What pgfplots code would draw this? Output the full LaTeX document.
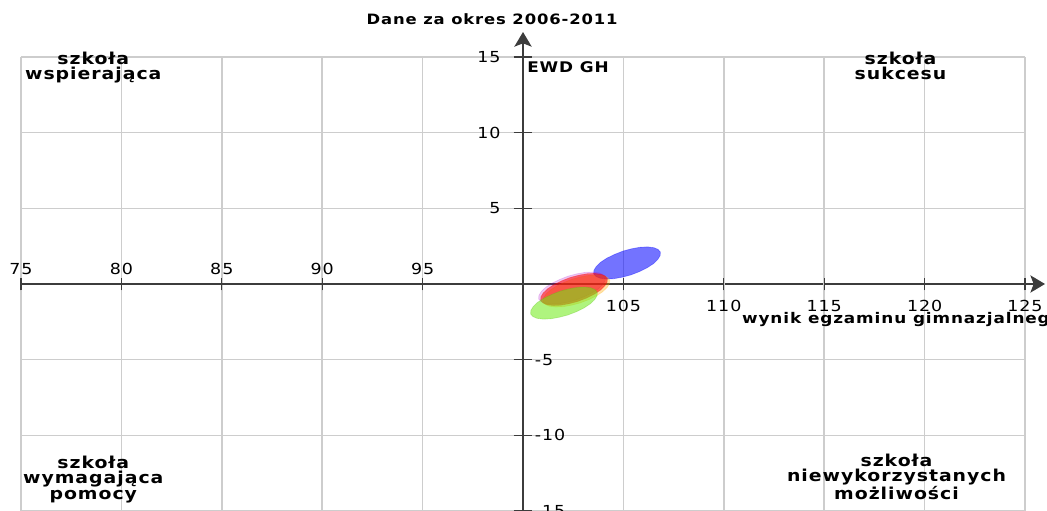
\documentclass[border=0pt]{standalone}
\usepackage{fontspec}
\setmainfont{DejaVu Sans}[FakeStretch=1.15, LetterSpace=6]
\usepackage{pgfplots}
\pgfplotsset{compat=1.18}
\usetikzlibrary{arrows.meta}
\definecolor{axgray}{RGB}{60,60,60}
\definecolor{gridgray}{RGB}{205,205,205}
\definecolor{eblue}{RGB}{0,0,255}
\definecolor{ered}{RGB}{255,0,0}
\definecolor{epurple}{RGB}{170,0,200}
\definecolor{eorange}{RGB}{255,170,0}
\definecolor{egreen}{RGB}{110,235,20}
\begin{document}
\begin{tikzpicture}
\begin{axis}[
  scale only axis, width=753pt, height=340.5pt,
  xmin=75, xmax=125, ymin=-15, ymax=15,
  x coord trafo/.code={\pgfmathparse{#1-100}},
  x coord inv trafo/.code={\pgfmathparse{#1+100}},
  axis lines=middle,
  clip=false,
  axis line style={draw=axgray, line width=1.1pt},
  x axis line style={-{Stealth[length=11pt,width=13pt,inset=2.5pt]}, shorten >=-15pt},
  y axis line style={-{Stealth[length=11pt,width=13pt,inset=2.5pt]}, shorten >=-18.75pt},
  grid=major,
  grid style={draw=gridgray, line width=1.1pt},
  tick align=center,
  major tick length=9.5pt,
  ytick style={/pgfplots/major tick length=14pt},
  tick style={draw=axgray, line width=0.9pt},
  tick label style={font=\fontsize{11.4pt}{13pt}\selectfont},
  xtick={75,80,85,90,95},
  xticklabels={75,80,85,90,95},
  xticklabel style={anchor=south, inner xsep=0pt, inner ysep=12pt, text depth=0pt},
  extra x ticks={105,110,115,120,125},
  extra x tick labels={105,110,115,120,125},
  extra x tick style={grid=major, xticklabel style={anchor=north, inner ysep=7.5pt, text height=8.2pt}},
  ytick={5,10,15},
  yticklabels={5,10,15},
  yticklabel style={anchor=east, inner xsep=12pt, inner ysep=0pt},
  extra y ticks={-15,-10,-5},
  extra y tick labels={-15,-10,-5},
  extra y tick style={grid=major, yticklabel style={anchor=west, inner xsep=13.5pt}},
]
% blue
\addplot[fill=eblue, fill opacity=0.55, draw=eblue, draw opacity=0.35, line width=0.5pt] coordinates {
(106.84,2.11) (106.73,2.28) (106.52,2.40) (106.22,2.45) (105.84,2.43) (105.42,2.33)
(104.99,2.18) (104.57,1.96) (104.18,1.71) (103.87,1.44) (103.65,1.16) (103.53,0.90)
(103.52,0.68) (103.63,0.50) (103.84,0.38) (104.14,0.33) (104.52,0.35) (104.94,0.45)
(105.37,0.60) (105.80,0.82) (106.18,1.07) (106.49,1.34) (106.71,1.62) (106.83,1.88)
} -- cycle;
% purple
\addplot[fill=epurple, fill opacity=0.22, draw=epurple, draw opacity=0.2, line width=0.5pt] coordinates {
(104.10,0.45) (103.99,0.62) (103.78,0.74) (103.48,0.79) (103.10,0.77) (102.68,0.67)
(102.25,0.52) (101.83,0.30) (101.44,0.05) (101.13,-0.22) (100.91,-0.50) (100.79,-0.76)
(100.78,-0.99) (100.89,-1.16) (101.10,-1.28) (101.40,-1.33) (101.78,-1.31) (102.20,-1.21)
(102.63,-1.06) (103.06,-0.84) (103.44,-0.59) (103.75,-0.32) (103.97,-0.04) (104.09,0.22)
} -- cycle;
% orange
\addplot[fill=eorange, fill opacity=0.35, draw=eorange, draw opacity=0.25, line width=0.5pt] coordinates {
(104.32,0.26) (104.21,0.43) (104.00,0.55) (103.70,0.60) (103.32,0.58) (102.90,0.48)
(102.47,0.33) (102.05,0.11) (101.66,-0.14) (101.35,-0.41) (101.13,-0.69) (101.01,-0.95)
(101.00,-1.18) (101.11,-1.35) (101.32,-1.47) (101.62,-1.52) (102.00,-1.50) (102.42,-1.40)
(102.85,-1.25) (103.28,-1.03) (103.66,-0.78) (103.97,-0.51) (104.19,-0.23) (104.31,0.03)
} -- cycle;
% red
\addplot[fill=ered, fill opacity=0.55, draw=ered, draw opacity=0.3, line width=0.5pt] coordinates {
(104.20,0.36) (104.09,0.53) (103.88,0.65) (103.58,0.70) (103.20,0.68) (102.78,0.58)
(102.35,0.43) (101.93,0.21) (101.54,-0.04) (101.23,-0.31) (101.01,-0.59) (100.89,-0.85)
(100.88,-1.08) (100.99,-1.25) (101.20,-1.37) (101.50,-1.42) (101.88,-1.40) (102.30,-1.30)
(102.73,-1.15) (103.16,-0.93) (103.54,-0.68) (103.85,-0.41) (104.07,-0.13) (104.19,0.13)
} -- cycle;
% green
\addplot[fill=egreen, fill opacity=0.55, draw=egreen!80!black, draw opacity=0.3, line width=0.5pt] coordinates {
(103.70,-0.55) (103.59,-0.37) (103.38,-0.25) (103.08,-0.20) (102.70,-0.22) (102.28,-0.32)
(101.85,-0.47) (101.43,-0.69) (101.04,-0.94) (100.73,-1.21) (100.51,-1.49) (100.39,-1.75)
(100.38,-1.98) (100.49,-2.15) (100.70,-2.27) (101.00,-2.32) (101.38,-2.30) (101.80,-2.20)
(102.23,-2.05) (102.66,-1.83) (103.04,-1.58) (103.35,-1.31) (103.57,-1.03) (103.69,-0.77)
} -- cycle;
% texts
\node[anchor=base, inner sep=0pt, font=\fontsize{10.7pt}{12pt}\selectfont\bfseries] at (axis cs:98.46,17.12) {Dane za okres 2006-2011};
\node[anchor=base west, inner sep=0pt, font=\fontsize{11pt}{12pt}\selectfont\bfseries] at (axis cs:100.2,13.95) {EWD GH};
\node[anchor=base west, inner sep=0pt, font=\fontsize{11pt}{12pt}\selectfont\bfseries] at (axis cs:110.9,-2.62) {wynik egzaminu gimnazjalnego};
\node[anchor=north, inner sep=0pt, align=center, font=\fontsize{12.3pt}{11.2pt}\selectfont\bfseries] at (axis cs:78.6,15.33) {szkoła\\wspierająca};
\node[anchor=north, inner sep=0pt, align=center, font=\fontsize{12.3pt}{11.2pt}\selectfont\bfseries] at (axis cs:118.8,15.33) {szkoła\\sukcesu};
\node[anchor=south, inner sep=0pt, align=center, font=\fontsize{12.3pt}{11.5pt}\selectfont\bfseries] at (axis cs:78.6,-14.47) {szkoła\\wymagająca\\pomocy};
\node[anchor=south, inner sep=0pt, align=center, font=\fontsize{12.3pt}{11.5pt}\selectfont\bfseries] at (axis cs:118.6,-14.28) {szkoła\\niewykorzystanych\\możliwości};
\end{axis}
\pgfresetboundingbox
\path ([xshift=-15.75pt,yshift=0.75pt]current axis.south west) rectangle ([xshift=16.5pt,yshift=42.75pt]current axis.north east);
\end{tikzpicture}
\end{document}
